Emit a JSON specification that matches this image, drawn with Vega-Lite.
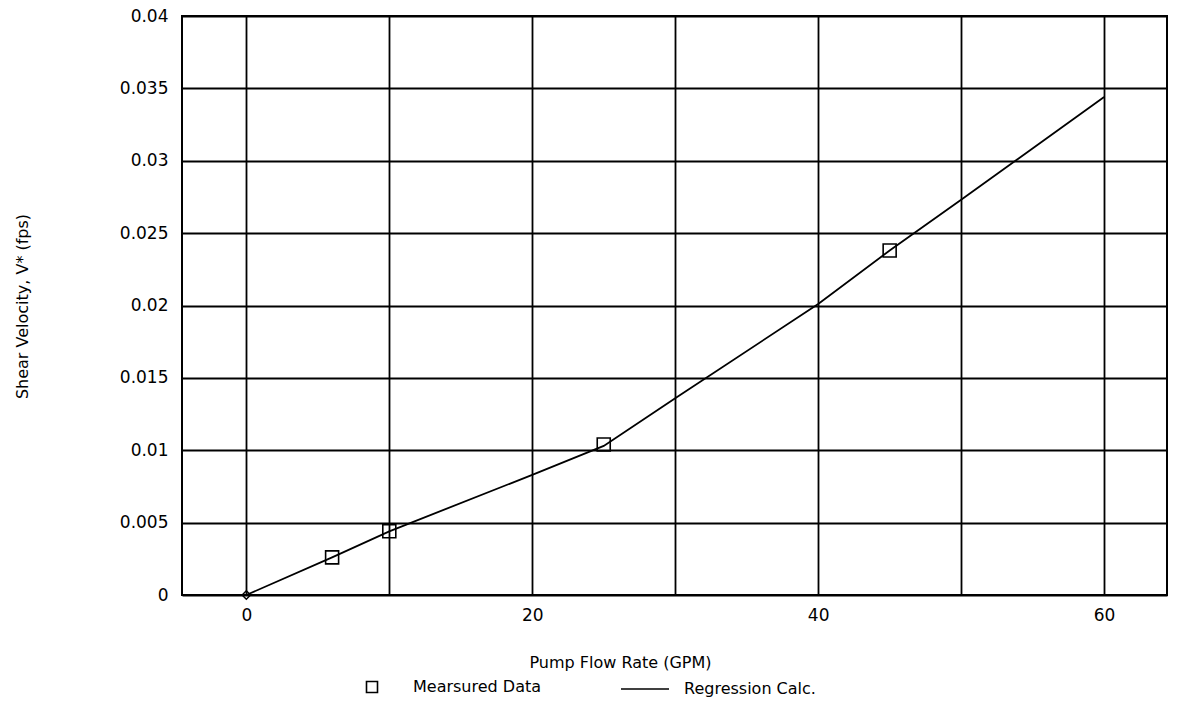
{
  "$schema": "https://vega.github.io/schema/vega-lite/v6.json",
  "width": 985,
  "height": 579,
  "autosize": {"type": "none"},
  "padding": {"left": 182, "top": 16, "right": 10, "bottom": 122},
  "background": "white",
  "config": {
    "font": "DejaVu Sans",
    "view": {"stroke": "black", "strokeWidth": 2},
    "axis": {
      "domain": false,
      "ticks": false,
      "grid": true,
      "gridColor": "black",
      "gridOpacity": 1,
      "gridWidth": 1.8,
      "labelFont": "DejaVu Sans",
      "labelFontSize": 17,
      "labelColor": "black",
      "titleFont": "DejaVu Sans",
      "titleFontSize": 16,
      "titleFontWeight": "normal",
      "titleColor": "black"
    },
    "legend": {
      "labelFont": "DejaVu Sans",
      "labelFontSize": 16,
      "labelColor": "black"
    }
  },
  "datasets": {
    "measured": [
      {"flow": 6, "velocity": 0.0026, "kind": "Mearsured Data"},
      {"flow": 10, "velocity": 0.0044, "kind": "Mearsured Data"},
      {"flow": 25, "velocity": 0.0104, "kind": "Mearsured Data"},
      {"flow": 45, "velocity": 0.0238, "kind": "Mearsured Data"}
    ],
    "origin": [
      {"flow": 0, "velocity": 0}
    ],
    "regression": [
      {"flow": 0, "velocity": 0, "fit": "Regression Calc."},
      {"flow": 6, "velocity": 0.0026, "fit": "Regression Calc."},
      {"flow": 10, "velocity": 0.0044, "fit": "Regression Calc."},
      {"flow": 20, "velocity": 0.0083, "fit": "Regression Calc."},
      {"flow": 25, "velocity": 0.0103, "fit": "Regression Calc."},
      {"flow": 30, "velocity": 0.0136, "fit": "Regression Calc."},
      {"flow": 40, "velocity": 0.0201, "fit": "Regression Calc."},
      {"flow": 45, "velocity": 0.0238, "fit": "Regression Calc."},
      {"flow": 50, "velocity": 0.0273, "fit": "Regression Calc."},
      {"flow": 60, "velocity": 0.0344, "fit": "Regression Calc."}
    ]
  },
  "layer": [
    {
      "data": {"name": "regression"},
      "mark": {"type": "line", "strokeWidth": 1.8, "color": "black"},
      "encoding": {
        "x": {
          "field": "flow",
          "type": "quantitative",
          "scale": {"domain": [-4.5, 64.4], "nice": false, "zero": false},
          "axis": {
            "values": [0, 10, 20, 30, 40, 50, 60],
            "labelExpr": "datum.value % 20 === 0 ? datum.label : ''",
            "labelPadding": 12,
            "title": "Pump Flow Rate (GPM)",
            "titleX": 438,
            "titleY": 67,
            "titleAnchor": null,
            "titleAlign": "center",
            "titleBaseline": "middle"
          }
        },
        "y": {
          "field": "velocity",
          "type": "quantitative",
          "scale": {"domain": [0, 0.04], "nice": false},
          "axis": {
            "values": [0, 0.005, 0.01, 0.015, 0.02, 0.025, 0.03, 0.035, 0.04],
            "labelExpr": "format(datum.value, '~g')",
            "labelPadding": 14,
            "title": "Shear Velocity, V* (fps)",
            "titleX": -160,
            "titleY": 290,
            "titleAngle": -90,
            "titleAlign": "center",
            "titleBaseline": "middle"
          }
        },
        "color": {
          "field": "fit",
          "type": "nominal",
          "scale": {"range": ["black"]},
          "legend": {
            "title": null,
            "orient": "none",
            "legendX": 438,
            "legendY": 648,
            "symbolType": "stroke",
            "symbolSize": 2304,
            "symbolStrokeWidth": 1.5,
            "labelOffset": 14
          }
        }
      }
    },
    {
      "data": {"name": "measured"},
      "mark": {"type": "point", "filled": false, "color": "black", "strokeWidth": 1.6, "size": 169, "opacity": 1},
      "encoding": {
        "x": {"field": "flow", "type": "quantitative"},
        "y": {"field": "velocity", "type": "quantitative"},
        "shape": {
          "field": "kind",
          "type": "nominal",
          "scale": {"range": ["square"]},
          "legend": {
            "title": null,
            "orient": "none",
            "legendX": 182,
            "legendY": 663,
            "symbolSize": 121,
            "symbolStrokeColor": "black",
            "symbolFillColor": "white",
            "symbolStrokeWidth": 1.6,
            "labelOffset": 33
          }
        }
      }
    },
    {
      "data": {"name": "origin"},
      "mark": {"type": "point", "shape": "diamond", "filled": false, "color": "black", "strokeWidth": 1.5, "size": 70, "opacity": 1},
      "encoding": {
        "x": {"field": "flow", "type": "quantitative"},
        "y": {"field": "velocity", "type": "quantitative"}
      }
    }
  ]
}
